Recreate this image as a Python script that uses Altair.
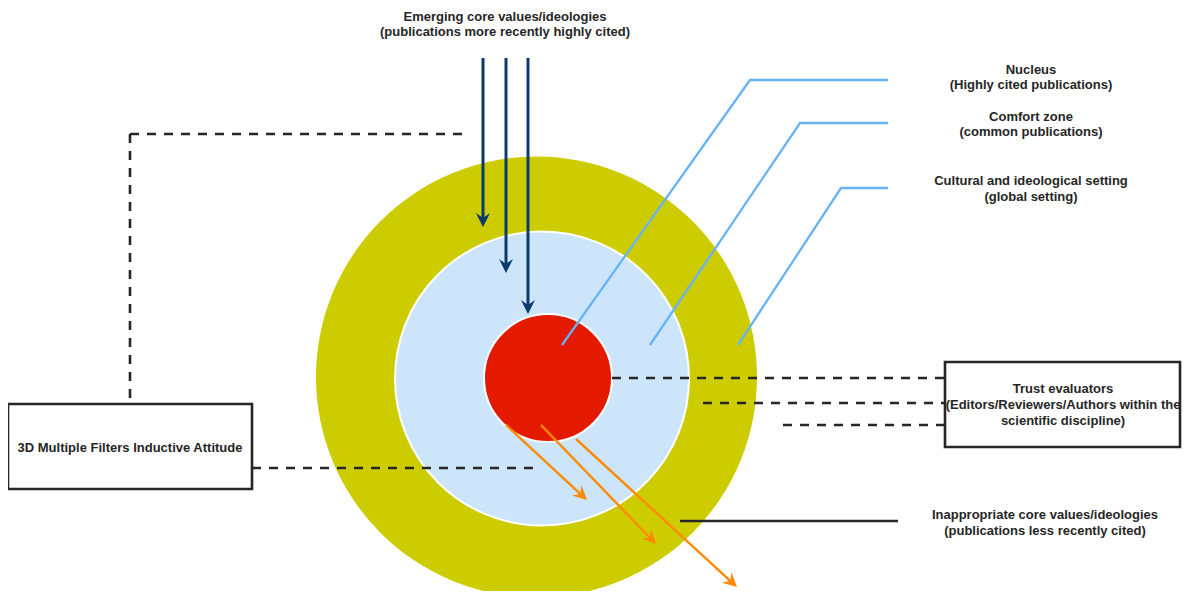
import math
import altair as alt
import pandas as pd

# ---------------- data (reference pixel coordinates) ----------------
CIRCLE_NAME = ["Cultural and ideological setting", "Comfort zone", "Nucleus"]
CIRCLE_CX = [536.5, 542.0, 548.0]
CIRCLE_CY = [377.0, 378.5, 378.0]
CIRCLE_R = [220.5, 147.0, 64.0]
CIRCLE_FILL = ["#cccc00", "#cce5fb", "#e31a00"]
CIRCLE_STROKE = ["#cccc00", "#ffffff", "#ffffff"]
CIRCLE_SW = [0, 2, 2]

# light-blue leader lines (label -> region)
BLUE_X = [[888, 750, 562], [888, 800, 650], [888, 841, 738]]
BLUE_Y = [[80, 80, 345], [123, 123, 345], [188, 188, 345]]

# dashed connectors
DASH_X1 = [130, 130, 252, 612, 703, 783]
DASH_Y1 = [134, 134, 468, 378, 403, 425]
DASH_X2 = [468, 130, 541, 945, 945, 945]
DASH_Y2 = [134, 404, 468, 378, 403, 425]

# solid black connector
SOLID_X1, SOLID_Y1, SOLID_X2, SOLID_Y2 = [680], [521], [898], [521]

# navy arrows (emerging values) : start -> tip
NAVY_X = [483, 506, 528]
NAVY_Y0 = [58, 58, 58]
NAVY_TIP = [227, 273, 314]

# orange arrows (inappropriate values) : start -> tip
ORANGE_X0 = [506, 541, 576]
ORANGE_Y0 = [425, 425, 439]
ORANGE_X1 = [587, 656, 737]
ORANGE_Y1 = [500, 544, 587]

# boxes
BOX_X1 = [8, 945]
BOX_Y1 = [404, 362]
BOX_X2 = [252, 1180]
BOX_Y2 = [489, 447]

# text labels
TEXT = [
    "Emerging core values/ideologies",
    "(publications more recently highly cited)",
    "Nucleus",
    "(Highly cited publications)",
    "Comfort zone",
    "(common publications)",
    "Cultural and ideological setting",
    "(global setting)",
    "Trust evaluators",
    "(Editors/Reviewers/Authors within the",
    "scientific discipline)",
    "3D Multiple Filters Inductive Attitude",
    "Inappropriate core values/ideologies",
    "(publications less recently cited)",
]
TEXT_X = [505, 505, 1031, 1031, 1031, 1031, 1031, 1031, 1063, 1063, 1063, 130, 1045, 1045]
TEXT_Y = [17, 32, 70, 85, 117, 132, 181, 197, 389, 405, 421, 448, 515, 531]

NAVY = "#0b3b6e"
ORANGE = "#ff8a00"
LIGHTBLUE = "#66b3f5"
DARK = "#262626"

# ---------------- scales ----------------
XS = alt.Scale(domain=[8, 1182], nice=False, zero=False)
YS = alt.Scale(domain=[8, 591], reverse=True, nice=False, zero=False)


def X(f):
    return alt.X(f, type="quantitative", scale=XS, axis=None)


def Y(f):
    return alt.Y(f, type="quantitative", scale=YS, axis=None)


# ---------------- tables ----------------
circles = pd.DataFrame({
    "name": CIRCLE_NAME, "cx": CIRCLE_CX, "cy": CIRCLE_CY,
    "size": [(2 * r) ** 2 for r in CIRCLE_R],
    "fill": CIRCLE_FILL, "stroke": CIRCLE_STROKE, "sw": CIRCLE_SW,
    "k": list(range(len(CIRCLE_R))),
})

blue_rows = []
for i, (xs, ys) in enumerate(zip(BLUE_X, BLUE_Y)):
    for j, (xx, yy) in enumerate(zip(xs, ys)):
        blue_rows.append({"line": i, "o": j, "x": xx, "y": yy})
blue = pd.DataFrame(blue_rows)

dashed = pd.DataFrame({"x": DASH_X1, "y": DASH_Y1, "x2": DASH_X2, "y2": DASH_Y2})
solid = pd.DataFrame({"x": SOLID_X1, "y": SOLID_Y1, "x2": SOLID_X2, "y2": SOLID_Y2})

HEAD = 7.0  # half-width of arrow head in px (size = (2*HEAD)^2)
ARROW_PATH = "M0,0 L-1,-2 L0,-1.3 L1,-2 Z"

navy_shaft = pd.DataFrame({
    "x": NAVY_X, "y": NAVY_Y0, "x2": NAVY_X,
    "y2": [t - 1.1 * HEAD for t in NAVY_TIP],
})
navy_head = pd.DataFrame({"x": NAVY_X, "y": NAVY_TIP, "ang": [0] * len(NAVY_X)})

o_rows, h_rows = [], []
for x0, y0, x1, y1 in zip(ORANGE_X0, ORANGE_Y0, ORANGE_X1, ORANGE_Y1):
    dx, dy = x1 - x0, y1 - y0
    L = math.hypot(dx, dy)
    o_rows.append({"x": x0, "y": y0,
                   "x2": x1 - dx / L * 1.1 * HEAD, "y2": y1 - dy / L * 1.1 * HEAD})
    h_rows.append({"x": x1, "y": y1,
                   "ang": math.degrees(math.atan2(-dx, dy)) % 360})
orange_shaft = pd.DataFrame(o_rows)
orange_head = pd.DataFrame(h_rows)

boxes = pd.DataFrame({"x": BOX_X1, "y": BOX_Y1, "x2": BOX_X2, "y2": BOX_Y2})
labels = pd.DataFrame({"text": TEXT, "x": TEXT_X, "y": TEXT_Y})

# ---------------- layers ----------------
circle_layer = alt.Chart(circles).mark_point(shape="circle", filled=True, opacity=1).encode(
    x=X("cx"), y=Y("cy"),
    size=alt.Size("size:Q", scale=None, legend=None),
    fill=alt.Fill("fill:N", scale=None, legend=None),
    stroke=alt.Stroke("stroke:N", scale=None, legend=None),
    strokeWidth=alt.StrokeWidth("sw:Q", scale=None, legend=None),
    order=alt.Order("k:Q"),
)

blue_layer = alt.Chart(blue).mark_line(color=LIGHTBLUE, strokeWidth=2.3).encode(
    x=X("x"), y=Y("y"), detail="line:N", order="o:Q",
)

dash_layer = alt.Chart(dashed).mark_rule(color=DARK, strokeWidth=2.6, strokeDash=[9, 8]).encode(
    x=X("x"), y=Y("y"), x2="x2:Q", y2="y2:Q",
)

solid_layer = alt.Chart(solid).mark_rule(color=DARK, strokeWidth=2.6).encode(
    x=X("x"), y=Y("y"), x2="x2:Q", y2="y2:Q",
)

navy_shaft_layer = alt.Chart(navy_shaft).mark_rule(color=NAVY, strokeWidth=3).encode(
    x=X("x"), y=Y("y"), x2="x2:Q", y2="y2:Q",
)
navy_head_layer = alt.Chart(navy_head).mark_point(
    shape=ARROW_PATH, filled=True, opacity=1, color=NAVY, size=(2 * HEAD) ** 2, strokeWidth=0,
).encode(x=X("x"), y=Y("y"), angle=alt.Angle("ang:Q", scale=None))

orange_shaft_layer = alt.Chart(orange_shaft).mark_rule(color=ORANGE, strokeWidth=2.4).encode(
    x=X("x"), y=Y("y"), x2="x2:Q", y2="y2:Q",
)
orange_head_layer = alt.Chart(orange_head).mark_point(
    shape=ARROW_PATH, filled=True, opacity=1, color=ORANGE, size=(2 * HEAD) ** 2, strokeWidth=0,
).encode(x=X("x"), y=Y("y"), angle=alt.Angle("ang:Q", scale=None))

box_layer = alt.Chart(boxes).mark_rect(fill="white", stroke=DARK, strokeWidth=2.6).encode(
    x=X("x"), y=Y("y"), x2="x2:Q", y2="y2:Q",
)

text_layer = alt.Chart(labels).mark_text(
    font="Liberation Sans", fontWeight="bold", fontSize=13, color=DARK,
    align="center", baseline="middle",
).encode(x=X("x"), y=Y("y"), text="text:N")

chart = alt.layer(
    circle_layer, blue_layer, dash_layer, solid_layer,
    navy_shaft_layer, navy_head_layer, orange_shaft_layer, orange_head_layer,
    box_layer, text_layer,
).properties(
    width=1174, height=583, padding=0, autosize=alt.AutoSizeParams(type="none"),
    background="white",
).configure_view(strokeWidth=0)

chart.save("out.html", embed_options={"renderer": "svg", "actions": False})
